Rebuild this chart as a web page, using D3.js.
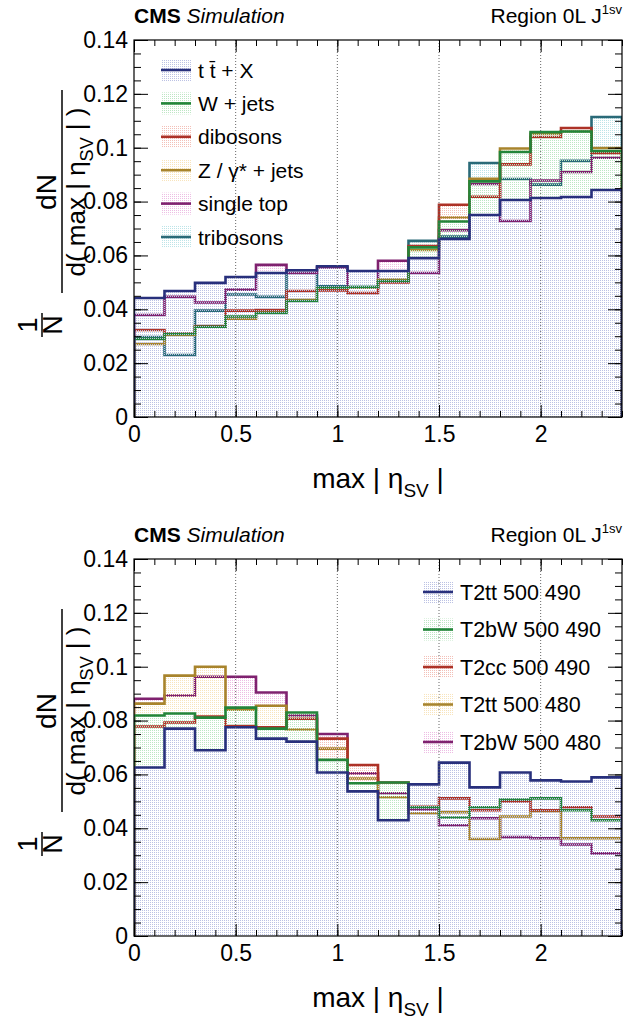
<!DOCTYPE html>
<html>
<head>
<meta charset="utf-8">
<script src="https://cdn.jsdelivr.net/npm/d3@7"></script>
<style>
  body { margin: 0; background: #fff; }
  text { font-family: "Liberation Sans", Arial, sans-serif; }
</style>
</head>
<body>
<div id="plot"></div>
<script>
// bin edges of max|eta_SV|
const binEdges = [0, 0.15, 0.3, 0.45, 0.6, 0.75, 0.9, 1.05, 1.2, 1.35, 1.5, 1.65, 1.8, 1.95, 2.1, 2.25, 2.4];

// top panel: backgrounds
const topNames = ["t t\u0304 + X", "W + jets", "dibosons", "Z / \u03b3* + jets", "single top", "tribosons"];
const ttX       = [0.0442, 0.0468, 0.0498, 0.0520, 0.0535, 0.0545, 0.0560, 0.0542, 0.0542, 0.0590, 0.0661, 0.0750, 0.0806, 0.0813, 0.0817, 0.0843];
const wJets     = [0.0290, 0.0308, 0.0335, 0.0373, 0.0386, 0.0431, 0.0480, 0.0483, 0.0505, 0.0630, 0.0726, 0.0875, 0.0984, 0.1058, 0.1060, 0.0988];
const dibosons  = [0.0323, 0.0310, 0.0338, 0.0395, 0.0397, 0.0468, 0.0470, 0.0460, 0.0500, 0.0635, 0.0788, 0.0818, 0.0938, 0.1040, 0.1073, 0.0980];
const zJets     = [0.0271, 0.0305, 0.0335, 0.0365, 0.0395, 0.0435, 0.0475, 0.0480, 0.0510, 0.0620, 0.0741, 0.0885, 0.0997, 0.1052, 0.1060, 0.0999];
const singleTop = [0.0379, 0.0446, 0.0425, 0.0473, 0.0565, 0.0535, 0.0555, 0.0480, 0.0580, 0.0535, 0.0694, 0.0865, 0.0728, 0.0878, 0.0910, 0.0963];
const tribosons = [0.0297, 0.0230, 0.0395, 0.0455, 0.0446, 0.0535, 0.0485, 0.0483, 0.0505, 0.0654, 0.0670, 0.0943, 0.0884, 0.0863, 0.0951, 0.1114];

// bottom panel: signals
const botNames = ["T2tt 500 490", "T2bW 500 490", "T2cc 500 490", "T2tt 500 480", "T2bW 500 480"];
const t2tt490 = [0.0626, 0.0770, 0.0690, 0.0775, 0.0733, 0.0722, 0.0607, 0.0537, 0.0430, 0.0563, 0.0644, 0.0552, 0.0607, 0.0578, 0.0574, 0.0589];
const t2bw490 = [0.0819, 0.0826, 0.0811, 0.0848, 0.0770, 0.0830, 0.0654, 0.0567, 0.0570, 0.0478, 0.0440, 0.0478, 0.0507, 0.0511, 0.0467, 0.0430];
const t2cc490 = [0.0778, 0.0793, 0.0815, 0.0780, 0.0775, 0.0807, 0.0733, 0.0635, 0.0570, 0.0480, 0.0511, 0.0467, 0.0500, 0.0467, 0.0478, 0.0444];
const t2tt480 = [0.0863, 0.0967, 0.1000, 0.0840, 0.0855, 0.0767, 0.0696, 0.0585, 0.0515, 0.0456, 0.0460, 0.0360, 0.0444, 0.0463, 0.0363, 0.0363];
const t2bw480 = [0.0881, 0.0893, 0.0963, 0.0963, 0.0904, 0.0819, 0.0750, 0.0604, 0.0530, 0.0470, 0.0411, 0.0437, 0.0367, 0.0363, 0.0340, 0.0307];

const xMajor = [0, 0.5, 1, 1.5, 2];
const xTickLabels = ["0", "0.5", "1", "1.5", "2"];
const yMajor = [0, 0.02, 0.04, 0.06, 0.08, 0.1, 0.12, 0.14];
const yTickLabels = ["0", "0.02", "0.04", "0.06", "0.08", "0.1", "0.12", "0.14"];
const gridX = [0.5, 1, 1.5, 2];

const lineColors = ["#28307c", "#23853a", "#ad3227", "#a8842c", "#7f216f", "#2a6a78"];
const tintColors = ["#bcc2e4", "#bde6c4", "#f3c0b8", "#f8e4bc", "#edbde4", "#bde4e8"];

let W = 623, H = 1027;
let svg = d3.select('#plot').append('svg')
  .attr('width', W).attr('height', H)
  .style('display', 'block');

// sparse dot pattern, like the ROOT hatch fill
let defs = svg.append('defs');
tintColors.forEach(function(c, i) {
  let p = defs.append('pattern')
    .attr('id', 'pat' + i)
    .attr('width', 2).attr('height', 2)
    .attr('patternUnits', 'userSpaceOnUse');
  p.append('rect').attr('x', 0).attr('y', 0).attr('width', 1).attr('height', 1).attr('fill', c);
});

function drawPanel(top, series, names, legendPos) {
  let left = 134, right = 622, bottom = top + 377;
  let x = d3.scaleLinear().domain([0, 2.4]).range([left, right]);
  let y = d3.scaleLinear().domain([0, 0.14]).range([bottom, top]);
  let g = svg.append('g');

  let clipId = 'clip' + top;
  defs.append('clipPath').attr('id', clipId)
    .append('rect').attr('x', left).attr('y', top).attr('width', right - left).attr('height', bottom - top);

  // histograms, last legend entry drawn first
  let hg = g.append('g').attr('clip-path', `url(#${clipId})`);
  for (let k = series.length - 1; k >= 0; k--) {
    let vals = series[k];
    let path = d3.path();
    path.moveTo(x(binEdges[0]), y(0));
    vals.forEach(function(v, i) {
      path.lineTo(x(binEdges[i]), y(v));
      path.lineTo(x(binEdges[i + 1]), y(v));
    });
    path.lineTo(x(binEdges[binEdges.length - 1]), y(0));
    hg.append('path')
      .attr('d', path.toString() + 'Z')
      .attr('fill', 'url(#pat' + k + ')')
      .attr('stroke', 'none');
    hg.append('path')
      .attr('d', path.toString())
      .attr('fill', 'none')
      .attr('stroke', lineColors[k])
      .attr('stroke-width', 2.6);
  }

  // dotted grid
  g.selectAll('.grid').data(gridX).enter().append('line')
    .attr('x1', d => x(d)).attr('x2', d => x(d))
    .attr('y1', top).attr('y2', bottom)
    .attr('stroke', '#666').attr('stroke-width', 1)
    .attr('stroke-dasharray', '1,2');

  // axes with inside ticks
  let xMinor = d3.range(0, 2.41, 0.1);
  let yMinor = d3.range(0, 0.1401, 0.005);
  let noDomain = s => s.select('.domain').remove();
  g.append('g').attr('transform', `translate(0,${bottom})`)
    .call(d3.axisBottom(x).tickValues(xMinor).tickSize(-6).tickFormat('')).call(noDomain);
  g.append('g').attr('transform', `translate(0,${bottom})`)
    .call(d3.axisBottom(x).tickValues(xMajor).tickSize(-12).tickPadding(9)
      .tickFormat((d, i) => xTickLabels[i])).call(noDomain);
  g.append('g').attr('transform', `translate(0,${top})`)
    .call(d3.axisTop(x).tickValues(xMinor).tickSize(-6).tickFormat('')).call(noDomain);
  g.append('g').attr('transform', `translate(0,${top})`)
    .call(d3.axisTop(x).tickValues(xMajor).tickSize(-12).tickFormat('')).call(noDomain);
  g.append('g').attr('transform', `translate(${left},0)`)
    .call(d3.axisLeft(y).tickValues(yMinor).tickSize(-7).tickFormat('')).call(noDomain);
  g.append('g').attr('transform', `translate(${left},0)`)
    .call(d3.axisLeft(y).tickValues(yMajor).tickSize(-14).tickPadding(6)
      .tickFormat((d, i) => yTickLabels[i])).call(noDomain);
  g.append('g').attr('transform', `translate(${right},0)`)
    .call(d3.axisRight(y).tickValues(yMinor).tickSize(-7).tickFormat('')).call(noDomain);
  g.append('g').attr('transform', `translate(${right},0)`)
    .call(d3.axisRight(y).tickValues(yMajor).tickSize(-14).tickFormat('')).call(noDomain);
  g.selectAll('.tick line').attr('stroke', '#000').attr('stroke-width', 1);
  g.selectAll('.tick text')
    .attr('font-size', 23)
    .attr('font-family', '"Liberation Sans", Arial, sans-serif')
    .attr('fill', '#000');

  g.append('rect')
    .attr('x', left).attr('y', top).attr('width', right - left).attr('height', bottom - top)
    .attr('fill', 'none').attr('stroke', '#000').attr('stroke-width', 1.2);

  // legend
  let lg = g.append('g');
  names.forEach(function(n, i) {
    let cy = legendPos.y + i * legendPos.step;
    lg.append('rect')
      .attr('x', legendPos.x).attr('y', cy - 11)
      .attr('width', 30).attr('height', 22)
      .attr('fill', 'url(#pat' + i + ')');
    lg.append('line')
      .attr('x1', legendPos.x).attr('x2', legendPos.x + 30)
      .attr('y1', cy).attr('y2', cy)
      .attr('stroke', lineColors[i]).attr('stroke-width', 2.6);
    lg.append('text')
      .attr('x', legendPos.x + 37).attr('y', cy + 7.5)
      .attr('font-size', legendPos.size)
      .text(n);
  });

  // header
  let hdr = g.append('text').attr('x', left).attr('y', top - 17).attr('font-size', 21);
  hdr.append('tspan').attr('font-weight', 'bold').text('CMS');
  hdr.append('tspan').attr('font-style', 'italic').text(' Simulation');
  let rg = g.append('text').attr('x', right).attr('y', top - 17)
    .attr('font-size', 21).attr('text-anchor', 'end');
  rg.append('tspan').text('Region 0L J');
  rg.append('tspan').attr('font-size', 13).attr('dy', -9).text('1sv');

  // x title
  let xt = g.append('text').attr('x', 378).attr('y', bottom + 71)
    .attr('font-size', 28).attr('text-anchor', 'middle');
  xt.append('tspan').text('max | \u03b7');
  xt.append('tspan').attr('font-size', 19).attr('dy', 9).text('SV');
  xt.append('tspan').attr('dy', -9).text(' |');

  // y title (rotated fractions)
  let off = top - 40;
  let yt = g.append('g').attr('transform', `translate(0,${off})`);
  function rotText(px, py, size) {
    return yt.append('text')
      .attr('x', px).attr('y', py)
      .attr('transform', `rotate(-90,${px},${py})`)
      .attr('text-anchor', 'middle')
      .attr('font-size', size);
  }
  rotText(37, 325, 27).text('1');
  yt.append('line').attr('x1', 42).attr('x2', 42).attr('y1', 313).attr('y2', 337)
    .attr('stroke', '#000').attr('stroke-width', 1.5);
  rotText(62, 325, 27).text('N');
  rotText(56, 192, 28).text('dN');
  yt.append('line').attr('x1', 62).attr('x2', 62).attr('y1', 90).attr('y2', 293)
    .attr('stroke', '#000').attr('stroke-width', 1.5);
  let den = rotText(85, 192, 26);
  den.append('tspan').text('d( max | \u03b7');
  den.append('tspan').attr('font-size', 18).attr('dy', 8).text('SV');
  den.append('tspan').attr('dy', -8).text(' | )');
}

drawPanel(40, [ttX, wJets, dibosons, zJets, singleTop, tribosons], topNames,
  { x: 161, y: 70, step: 33.4, size: 21 });
drawPanel(559, [t2tt490, t2bw490, t2cc490, t2tt480, t2bw480], botNames,
  { x: 423, y: 592, step: 37.5, size: 21.5 });
</script>
</body>
</html>
